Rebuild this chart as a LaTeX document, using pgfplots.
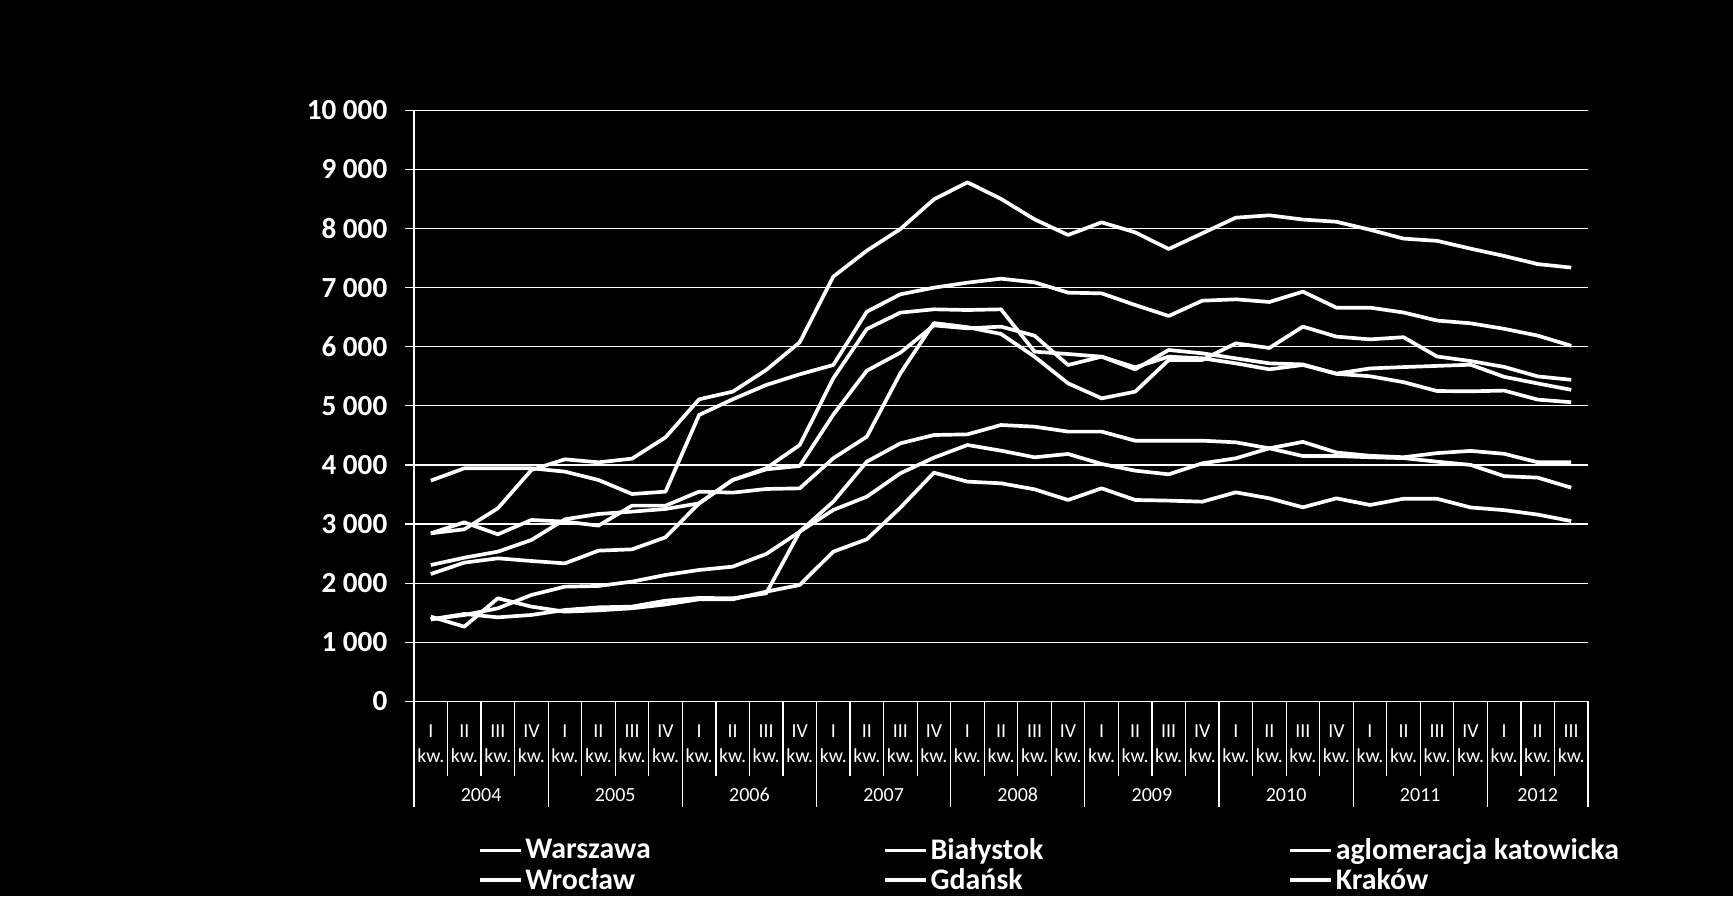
\documentclass[border=0pt]{standalone}
\usepackage{pgfplots}
\pgfplotsset{compat=1.18}
\usepackage{pgfplotstable}
\usepackage{fontspec}
\setmainfont{Carlito}

% q = quarter index (0 = I kw. 2004 ... 34 = III kw. 2012)
% s7, s8: two more cities whose legend row is cut off in the original
\pgfplotstableread{
q  warszawa bialystok katowice wroclaw gdansk krakow s7   s8
0  2843 1388 1434 2843 2155 3734 2307 1388
1  2911 1462 1264 3029 2347 3943 2431 1479
2  3266 1574 1744 2826 2420 3943 2533 1422
3  3914 1800 1603 3069 2375 3943 2730 1462
4  4095 1941 1518 3041 2335 3886 3080 1546
5  4044 1953 1540 2973 2550 3745 3170 1591
6  4106 2026 1575 3311 2572 3508 3210 1603
7  4467 2139 1640 3311 2776 3548 3255 1704
8  5110 2223 1727 3548 3350 4845 3350 1750
9  5239 2279 1727 3531 3745 5110 3745 1744
10 5606 2493 1856 3593 3943 5352 3925 1828
11 6074 2871 1969 3604 4337 5533 3982 2871
12 7185 3238 2533 4112 5465 5690 4850 3379
13 7624 3463 2742 4478 6299 6592 5594 4055
14 7990 3858 3277 5549 6576 6886 5899 4365
15 8492 4123 3869 6400 6632 6998 6360 4506
16 8780 4337 3717 6330 6620 7083 6310 4517
17 8500 4241 3689 6215 6632 7150 6339 4675
18 8154 4129 3587 5831 5916 7088 6186 4647
19 7889 4185 3407 5380 5876 6914 5690 4563
20 8103 4016 3604 5126 5831 6902 5831 4563
21 7934 3903 3407 5239 5651 6705 5617 4410
22 7652 3841 3396 5775 5831 6519 5944 4410
23 7917 4027 3378 5775 5803 6778 5888 4410
24 8182 4112 3536 6057 5718 6801 5803 4382
25 8222 4281 3435 5978 5617 6756 5718 4281
26 8150 4390 3283 6339 5690 6931 5700 4150
27 8113 4210 3435 6170 5545 6660 5540 4150
28 7978 4155 3322 6124 5632 6660 5500 4130
29 7828 4130 3428 6160 5655 6578 5400 4115
30 7790 4200 3428 5834 5675 6442 5250 4055
31 7658 4237 3280 5757 5695 6395 5245 4000
32 7534 4188 3235 5658 5490 6302 5257 3810
33 7397 4045 3160 5497 5378 6187 5105 3785
34 7338 4045 3050 5440 5270 6015 5060 3615
}\prices

\newcommand{\leg}[1]{\makebox[7.15cm][l]{#1}}

\begin{document}
\begin{tikzpicture}
\path[fill=black, use as bounding box] (0,0) rectangle (34.66cm,17.92cm);
\begin{axis}[
    at={(8.28cm,3.892cm)}, anchor=south west,
    scale only axis, width=23.48cm, height=11.824cm,
    xmin=-0.5, xmax=34.5, ymin=0, ymax=10000,
    clip=false,
    axis x line*=bottom, axis y line*=left,
    axis line style={white, line width=0.7pt},
    ymajorgrids, grid style={white, line width=0.7pt},
    tick align=outside,
    major tick length=0.18cm,
    minor tick length=2.11cm,
    ytick={0,1000,...,10000},
    ytick style={white, line width=0.7pt},
    scaled y ticks=false,
    /pgf/number format/1000 sep={\ },
    /pgf/number format/assume math mode=true,
    yticklabel style={font=\bfseries\fontsize{16.6}{19}\selectfont, text=white, xshift=-0.23cm},
    % quarter separators (short) as major ticks, year separators (long) as minor ticks
    xtick={-0.5,0.5,...,34.5},
    x tick label as interval,
    xtick style={white, line width=0.7pt, /pgfplots/major tick length=1.5cm},
    minor xtick={-0.5,3.5,7.5,11.5,15.5,19.5,23.5,27.5,31.5,34.5},
    minor x tick style={white, line width=0.7pt},
    xticklabels={
      {I\\kw.},{II\\kw.},{III\\kw.},{IV\\kw.},{I\\kw.},{II\\kw.},{III\\kw.},{IV\\kw.},
      {I\\kw.},{II\\kw.},{III\\kw.},{IV\\kw.},{I\\kw.},{II\\kw.},{III\\kw.},{IV\\kw.},
      {I\\kw.},{II\\kw.},{III\\kw.},{IV\\kw.},{I\\kw.},{II\\kw.},{III\\kw.},{IV\\kw.},
      {I\\kw.},{II\\kw.},{III\\kw.},{IV\\kw.},{I\\kw.},{II\\kw.},{III\\kw.},{IV\\kw.},
      {I\\kw.},{II\\kw.},{III\\kw.}},
    xticklabel style={font=\fontsize{11.3}{14.6}\selectfont, text=white, align=center, anchor=north, yshift=-0.155cm},
    legend columns=3,
    legend style={at={(0.0540,-0.2318)}, anchor=north west, draw=none, fill=none,
      inner sep=0pt, text=white, font=\bfseries\fontsize{17}{19}\selectfont,
      nodes={inner sep=0pt},
      /tikz/every odd column/.append style={column sep=0.06cm}, row sep=0.12cm},
    legend cell align=left,
    legend image code/.code={\draw[#1] (0cm,0cm) -- (0.82cm,0cm);},
    city/.style={draw=white, line width=2.1pt, line join=round, mark=none},
  ]
  \addplot[city, forget plot] table[x=q, y=s7] {\prices};
  \addplot[city, forget plot] table[x=q, y=s8] {\prices};
  \addplot[city] table[x=q, y=warszawa] {\prices};
  \addlegendentry{\leg{Warszawa}}
  \addplot[city] table[x=q, y=bialystok] {\prices};
  \addlegendentry{\leg{Białystok}}
  \addplot[city] table[x=q, y=katowice] {\prices};
  \addlegendentry{\leg{aglomeracja katowicka}}
  \addplot[city] table[x=q, y=wroclaw] {\prices};
  \addlegendentry{\leg{Wrocław}}
  \addplot[city] table[x=q, y=gdansk] {\prices};
  \addlegendentry{\leg{Gdańsk}}
  \addplot[city] table[x=q, y=krakow] {\prices};
  \addlegendentry{\leg{Kraków}}

  \begin{scope}[every node/.style={font=\fontsize{11.4}{14.6}\selectfont, text=white, yshift=-1.866cm}]
    \node at (axis cs:1.5,0) {2004};
    \node at (axis cs:5.5,0) {2005};
    \node at (axis cs:9.5,0) {2006};
    \node at (axis cs:13.5,0) {2007};
    \node at (axis cs:17.5,0) {2008};
    \node at (axis cs:21.5,0) {2009};
    \node at (axis cs:25.5,0) {2010};
    \node at (axis cs:29.5,0) {2011};
    \node at (axis cs:33,0) {2012};
  \end{scope}
\end{axis}
\end{tikzpicture}
\end{document}
